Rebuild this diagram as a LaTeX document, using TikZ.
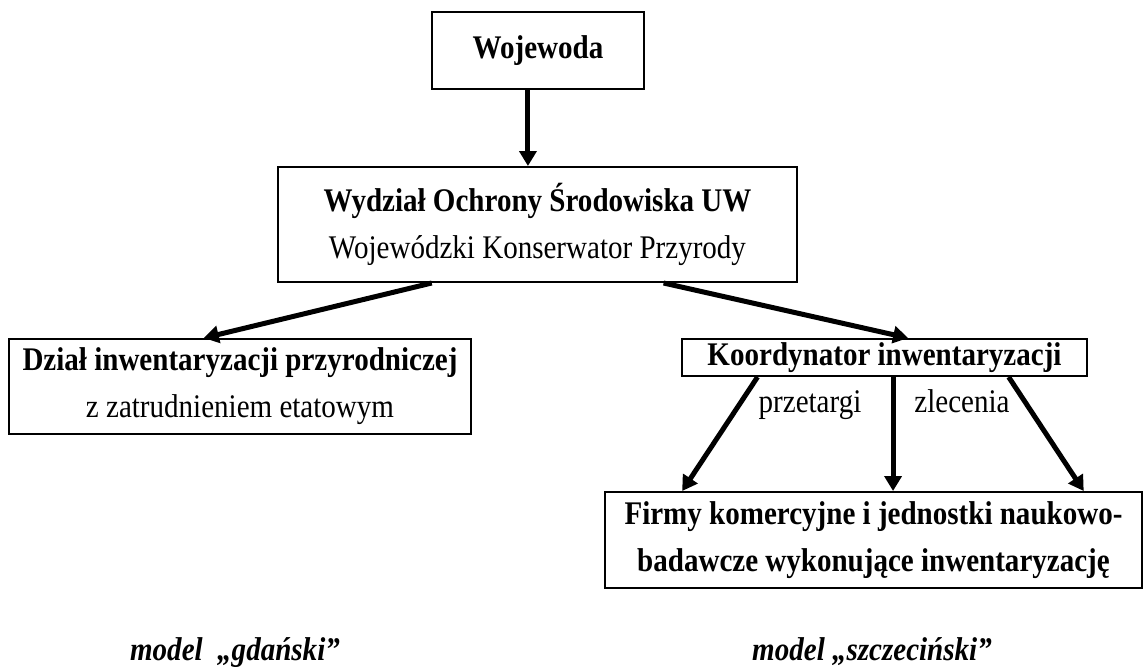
\documentclass[tikz,border=0pt]{standalone}
\usepackage{fontspec}
\setmainfont{Liberation Serif}[FakeStretch=0.88]
\usetikzlibrary{positioning,arrows.meta,calc}
\tikzset{
  blk/.style={draw,line width=1pt,align=center,inner sep=0pt,
              font=\fontsize{16.5}{23.5}\selectfont},
  fl/.style={-{Triangle[length=7.5pt,width=8.5pt]},line width=2.5pt},
  lbl/.style={font=\fontsize{16.5}{18}\selectfont,anchor=base},
  mdl/.style={font=\fontsize{16.5}{18}\selectfont\bfseries\itshape,anchor=base},
}

\begin{document}
\begin{tikzpicture}[x=0.5pt,y=-0.5pt]
\useasboundingbox (0,0) rectangle (1143,666);
% top of the chain
\node[blk,minimum width=106pt,minimum height=38.5pt] (woj) at (538,50.5)
  {\textbf{Wojewoda}};
\node[blk,minimum width=259.5pt,minimum height=57.5pt] (wyd) at (537.5,224.5)
  {\textbf{Wydział Ochrony Środowiska UW}\\Wojewódzki Konserwator Przyrody};
% two models
\node[blk,minimum width=231pt,minimum height=47.5pt] (dzial) at (240,386.5)
  {\textbf{Dział inwentaryzacji przyrodniczej}\\z zatrudnieniem etatowym};
\node[blk,minimum width=202.5pt,minimum height=18.5pt] (koord) at (884.5,357.5)
  {\textbf{Koordynator inwentaryzacji}};
\node[blk,minimum width=268.5pt,minimum height=48pt] (firmy) at (873.5,540)
  {\textbf{Firmy komercyjne i jednostki naukowo-}\\\textbf{badawcze wykonujące inwentaryzację}};
% labels
\node[lbl] (przet) at (810,412) {przetargi};
\node[lbl] (zlec) at (962,412) {zlecenia};
\node[mdl] (mgd) at (235,660) {model\ \ „gdański”};
\node[mdl] (msz) at (872,660) {model „szczeciński”};
% flows
\coordinate (w1) at ($(woj.south west)!0.453!(woj.south east)$);
\draw[fl] (w1) -- (w1 |- wyd.north);
\draw[fl] ($(wyd.south west)!0.297!(wyd.south east)$) -- ($(dzial.north west)!0.422!(dzial.north east)$);
\draw[fl] ($(wyd.south west)!0.742!(wyd.south east)$) -- ($(koord.north west)!0.558!(koord.north east)$);
\draw[fl] ($(koord.south west)!0.188!(koord.south east)$) -- ($(firmy.north west)!0.145!(firmy.north east)$);
\coordinate (k2) at ($(koord.south west)!0.521!(koord.south east)$);
\draw[fl] (k2) -- (k2 |- firmy.north);
\draw[fl] ($(koord.south west)!0.805!(koord.south east)$) -- ($(firmy.north west)!0.89!(firmy.north east)$);
\end{tikzpicture}
\end{document}
